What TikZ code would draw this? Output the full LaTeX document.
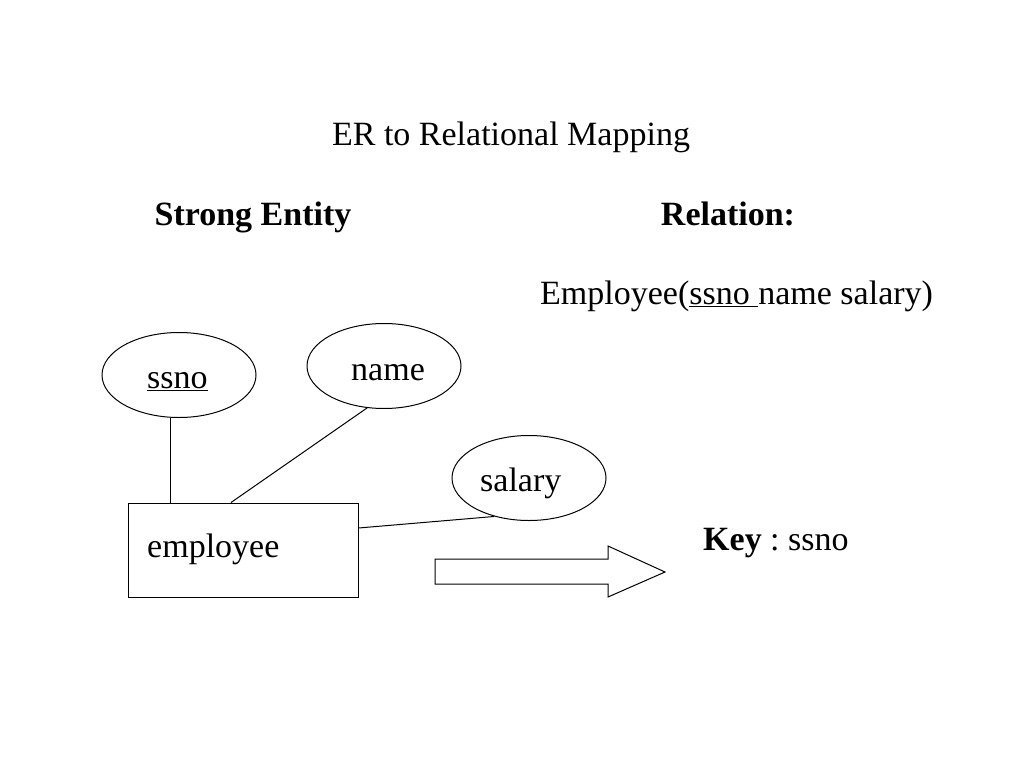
\documentclass[tikz,border=0pt]{standalone}
\usepackage{fontspec}
\setmainfont{Liberation Serif}
\usetikzlibrary{shapes.geometric}
\frenchspacing
\begin{document}
\begin{tikzpicture}[x=1pt,y=-1pt,
  txt/.style={anchor=base west,inner sep=0pt,font=\fontsize{34}{40}\selectfont},
  ctxt/.style={anchor=base,inner sep=0pt,font=\fontsize{34}{40}\selectfont},
  attr/.style={draw,ellipse,line width=1pt,inner sep=0pt,minimum width=154pt,minimum height=85pt},
  ent/.style={draw,rectangle,line width=1pt,inner sep=0pt,minimum width=230pt,minimum height=94pt},
  conn/.style={line width=1pt}]
\useasboundingbox[fill=white] (0,0) rectangle (1024,768);
% headings
\node[ctxt] (title) at (511,145) {ER to Relational Mapping};
\node[ctxt] (strong) at (253,225) {\bfseries Strong Entity};
\node[ctxt] (rel) at (728,225) {\bfseries Relation:};
\node[txt] (schema) at (540,304) {Employee(\underline{ssno\ }name salary)};
% ER diagram
\node[attr] (ssno) at (179,375) {};
\node[txt] (ssnot) at (147,388) {\underline{ssno}};
\node[attr] (name) at (384,366) {};
\node[txt] (namet) at (351,380) {name};
\node[attr] (salary) at (529,478) {};
\node[txt] (salaryt) at (480,491) {salary};
\node[ent] (emp) at (243,550) {};
\node[txt] (empt) at (147,557) {employee};
\draw[conn] (ssno.259) -- (ssno.259 |- emp.north);
\draw[conn] (name.248) -- ([xshift=-12pt]emp.north);
\draw[conn] ([yshift=22pt]emp.east) -- (salary.228);
% block arrow
\draw[line width=1pt,line join=miter] (435,559) -- (608,559) -- (608,546) -- (665,572) -- (608,597) -- (608,584) -- (435,584) -- cycle;
\node[txt] (key) at (703,550) {\textbf{Key} : ssno};
\end{tikzpicture}
\end{document}
